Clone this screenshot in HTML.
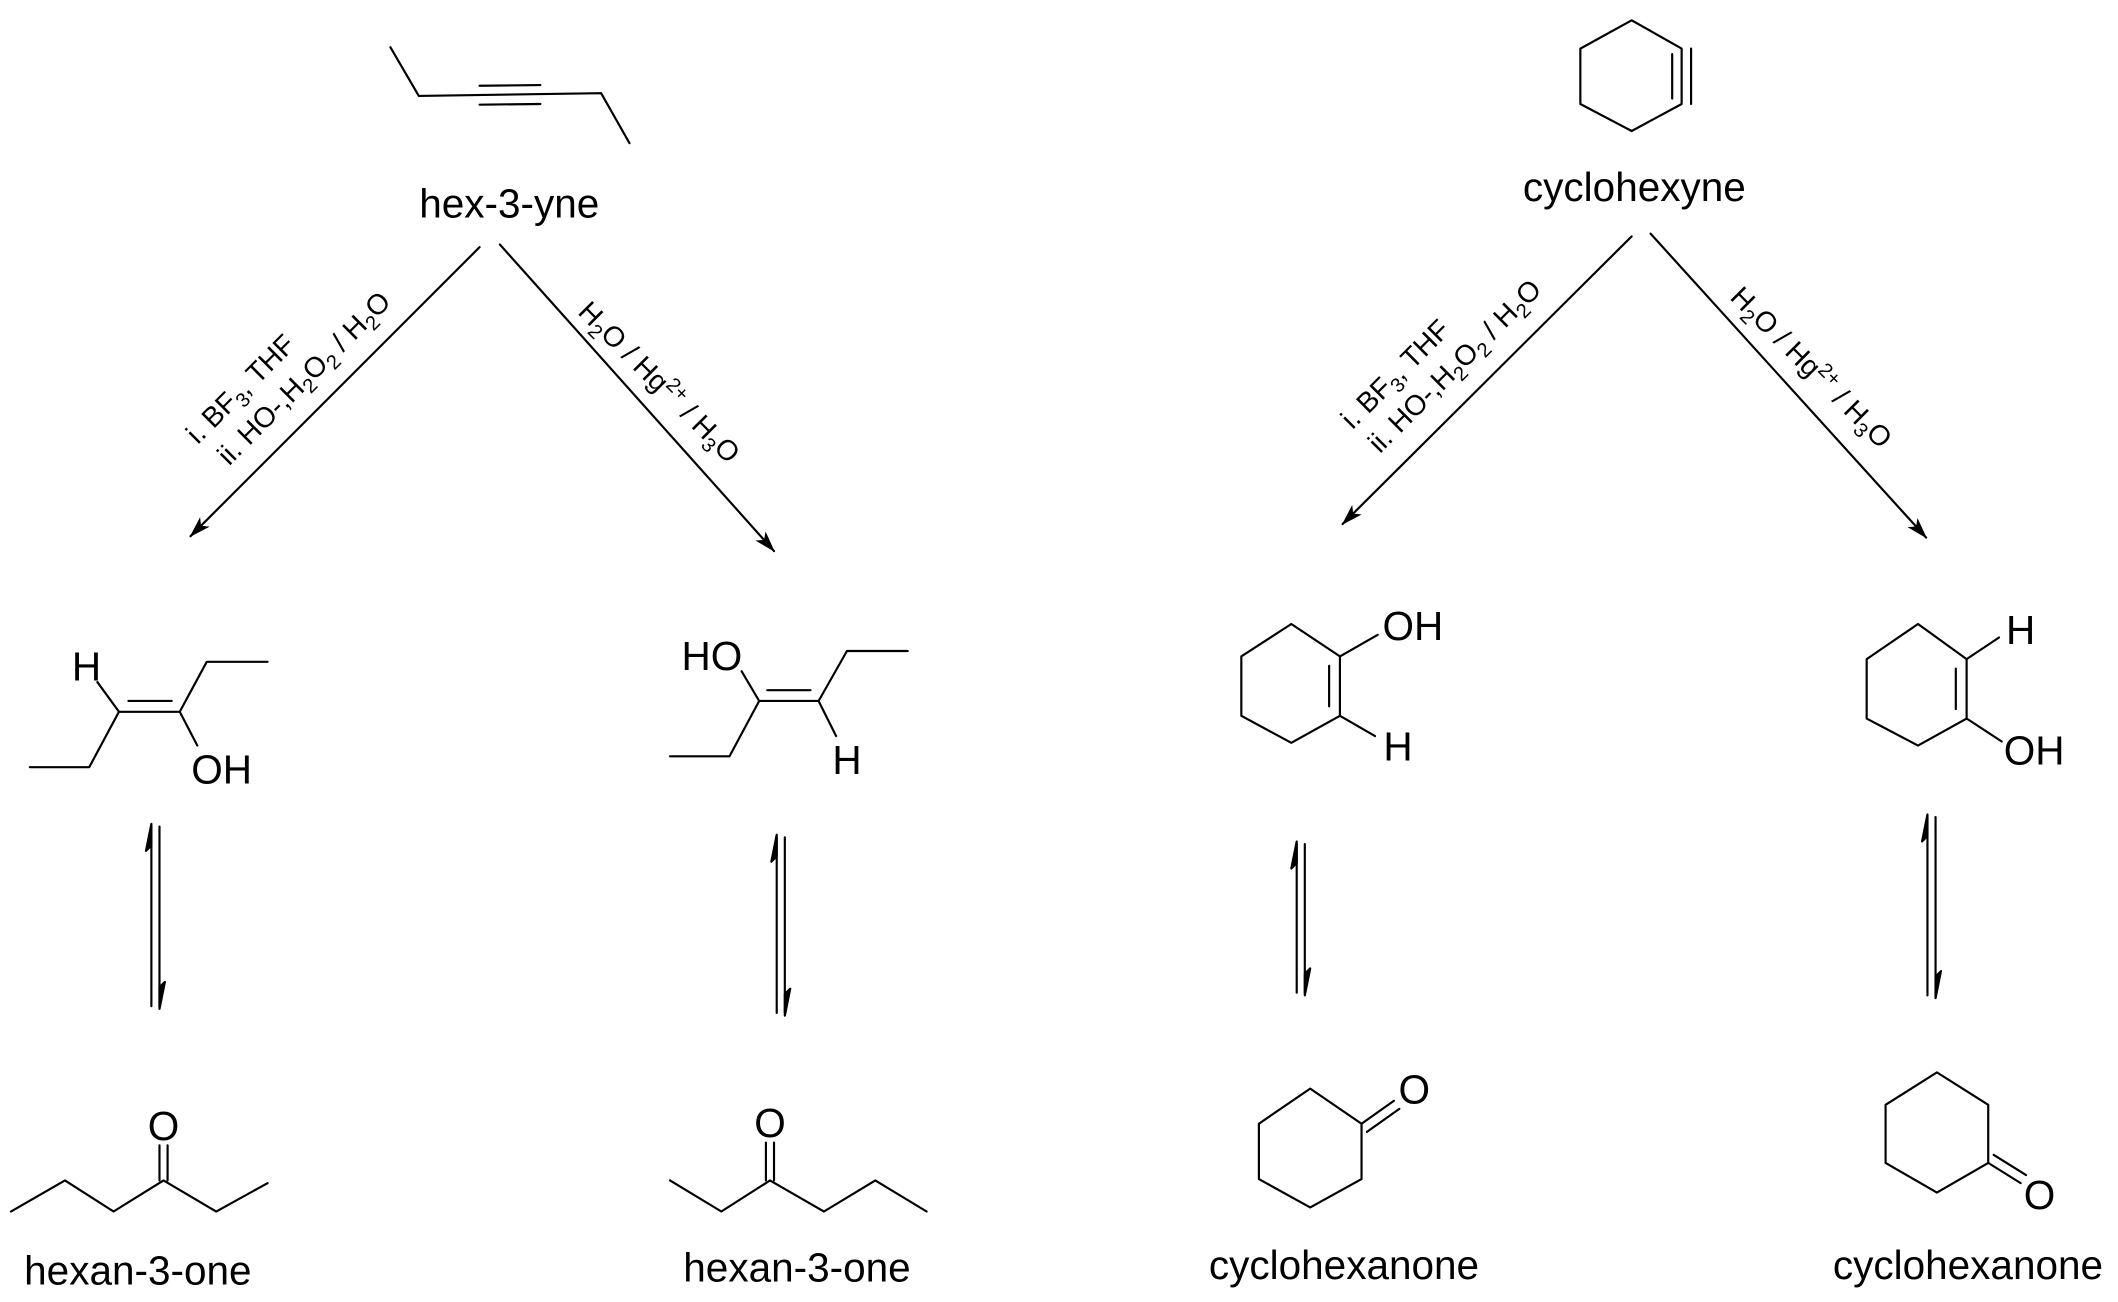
<!DOCTYPE html>
<html><head><meta charset="utf-8"><style>html,body{margin:0;padding:0;background:#fff}svg{display:block}</style></head>
<body>
<svg width="2118" height="1302" viewBox="0 0 1568 964" xmlns="http://www.w3.org/2000/svg" font-family="Liberation Sans, sans-serif">
<defs>
<marker id="ah" viewBox="0 0 16 10" refX="15" refY="5" markerWidth="16" markerHeight="10" markerUnits="userSpaceOnUse" orient="auto"><path d="M0,0 L16,5 L0,10 L4,5 Z" fill="#000"/></marker>
</defs>
<g stroke="#000" stroke-width="1.6" fill="none" stroke-linecap="round" stroke-linejoin="round">
<polyline points="289,35 310,71 445,69 466,106"/>
<line x1="355" y1="63.5" x2="400" y2="63"/>
<line x1="355" y1="77.5" x2="400" y2="77"/>
<polygon points="1208,15 1245,36 1245,77 1208,97 1170,77 1170,36"/>
<line x1="1238" y1="40" x2="1238" y2="73"/>
<line x1="1252" y1="36" x2="1252" y2="77"/>
<line x1="355" y1="183" x2="141" y2="397" marker-end="url(#ah)"/>
<line x1="370" y1="181" x2="573" y2="408" marker-end="url(#ah)"/>
<line x1="1208" y1="175" x2="994" y2="388" marker-end="url(#ah)"/>
<line x1="1222" y1="173" x2="1426" y2="398" marker-end="url(#ah)"/>
<polyline points="22,568 66,568 88,527 133,527 153,490 198,490"/>
<line x1="95" y1="519" x2="127" y2="519"/>
<line x1="88" y1="527" x2="72" y2="505"/>
<line x1="133" y1="527" x2="146" y2="552"/>
<polyline points="496,560 540,560 562,519 606,519 627,482 672,482"/>
<line x1="568" y1="511" x2="600" y2="511"/>
<line x1="562" y1="519" x2="549" y2="497"/>
<line x1="606" y1="519" x2="619" y2="545"/>
<polygon points="956,462 992,486 992,530 956,550 919,530 919,486"/>
<line x1="984" y1="493" x2="984" y2="523"/>
<line x1="992" y1="486" x2="1020" y2="470"/>
<line x1="992" y1="530" x2="1018" y2="545"/>
<polygon points="1420,462 1456,488 1456,532 1420,552 1382,532 1382,488"/>
<line x1="1448" y1="495" x2="1448" y2="525"/>
<line x1="1456" y1="488" x2="1480" y2="472"/>
<line x1="1456" y1="532" x2="1482" y2="549"/>
<line x1="112" y1="745" x2="112" y2="612"/><path d="M112,610 L108,630 L112,626 Z" fill="#000"/>
<line x1="118" y1="612" x2="118" y2="745"/><path d="M118,747 L122,727 L118,731 Z" fill="#000"/>
<line x1="575" y1="750" x2="575" y2="620"/><path d="M575,618 L571,638 L575,634 Z" fill="#000"/>
<line x1="581" y1="620" x2="581" y2="750"/><path d="M581,752 L585,732 L581,736 Z" fill="#000"/>
<line x1="960" y1="735" x2="960" y2="625"/><path d="M960,623 L956,643 L960,639 Z" fill="#000"/>
<line x1="966" y1="625" x2="966" y2="735"/><path d="M966,737 L970,717 L966,721 Z" fill="#000"/>
<line x1="1427" y1="737" x2="1427" y2="605"/><path d="M1427,603 L1423,623 L1427,619 Z" fill="#000"/>
<line x1="1433" y1="605" x2="1433" y2="737"/><path d="M1433,739 L1437,719 L1433,723 Z" fill="#000"/>
<polyline points="8,897 48,874 84,897 121,874 160,897 198,876"/>
<line x1="118" y1="874" x2="118" y2="848"/><line x1="124" y1="874" x2="124" y2="848"/>
<polyline points="496,874 534,897 570,874 610,897 648,874 686,897"/>
<line x1="567" y1="874" x2="567" y2="846"/><line x1="573" y1="874" x2="573" y2="846"/>
<polygon points="970,806 1008,832 1008,873 970,894 932,873 932,832"/>
<line x1="1008" y1="832" x2="1032" y2="815"/><line x1="1012" y1="838" x2="1036" y2="821"/>
<polygon points="1434,794 1472,818 1472,861 1434,883 1396,861 1396,818"/>
<line x1="1472" y1="861" x2="1496" y2="876"/><line x1="1476" y1="855" x2="1500" y2="870"/>
</g>
<g fill="#000" font-size="30" text-anchor="middle">
<text x="377" y="161">hex-3-yne</text>
<text x="1210" y="149">cyclohexyne</text>
<text x="102" y="951">hexan-3-one</text>
<text x="590" y="949">hexan-3-one</text>
<text x="995" y="947">cyclohexanone</text>
<text x="1457" y="947">cyclohexanone</text>
<text x="64" y="504">H</text>
<text x="164" y="580">OH</text>
<text x="527" y="496">HO</text>
<text x="627" y="573">H</text>
<text x="1046" y="474">OH</text>
<text x="1035" y="563">H</text>
<text x="1496" y="477">H</text>
<text x="1506" y="566">OH</text>
<text x="121" y="844">O</text>
<text x="570" y="842">O</text>
<text x="1047" y="817">O</text>
<text x="1510" y="895">O</text>
</g>
<g fill="#000" font-size="21" text-anchor="middle">
<text transform="translate(178,288) rotate(-45)" y="7">i. BF<tspan font-size="15" dy="5">3</tspan><tspan dy="-5">, THF</tspan></text>
<text transform="translate(225,280) rotate(-45)" y="7">ii. HO-,H<tspan font-size="15" dy="5">2</tspan><tspan dy="-5">O</tspan><tspan font-size="15" dy="5">2</tspan><tspan dy="-5"> / H</tspan><tspan font-size="15" dy="5">2</tspan><tspan dy="-5">O</tspan></text>
<text transform="translate(488,283) rotate(45)" y="7">H<tspan font-size="15" dy="5">2</tspan><tspan dy="-5">O / Hg</tspan><tspan font-size="15" dy="-8">2+</tspan><tspan dy="8"> / H</tspan><tspan font-size="15" dy="5">3</tspan><tspan dy="-5">O</tspan></text>
<text transform="translate(1033,277) rotate(-45)" y="7">i. BF<tspan font-size="15" dy="5">3</tspan><tspan dy="-5">, THF</tspan></text>
<text transform="translate(1077,271) rotate(-45)" y="7">ii. HO-,H<tspan font-size="15" dy="5">2</tspan><tspan dy="-5">O</tspan><tspan font-size="15" dy="5">2</tspan><tspan dy="-5"> / H</tspan><tspan font-size="15" dy="5">2</tspan><tspan dy="-5">O</tspan></text>
<text transform="translate(1341,272) rotate(45)" y="7">H<tspan font-size="15" dy="5">2</tspan><tspan dy="-5">O / Hg</tspan><tspan font-size="15" dy="-8">2+</tspan><tspan dy="8"> / H</tspan><tspan font-size="15" dy="5">3</tspan><tspan dy="-5">O</tspan></text>
</g>
</svg>
</body></html>
